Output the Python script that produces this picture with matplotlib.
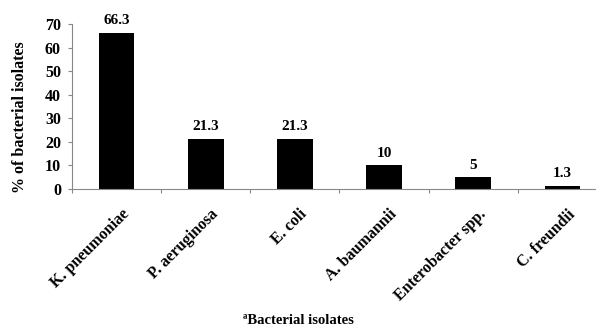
import matplotlib
matplotlib.use("Agg")
import matplotlib.pyplot as plt
import numpy as np

categories = ["K. pneumoniae", "P. aeruginosa", "E. coli", "A. baumannii", "Enterobacter spp.", "C. freundii"]
values = [66.3, 21.3, 21.3, 10, 5, 1.3]
labels = ["66.3", "21.3", "21.3", "10", "5", "1.3"]
yticks = [0, 10, 20, 30, 40, 50, 60, 70]

plt.rcParams['font.family'] = ['Liberation Serif', 'DejaVu Serif']
plt.rcParams['font.weight'] = 'bold'

fig = plt.figure(figsize=(5.96, 3.29), dpi=100)
ax = fig.add_axes([72/596, 1 - 188.7/329, 535/596, (188.7 - 24)/329])

x = np.arange(len(categories))
ax.bar(x, values, width=0.4, color='black')
for xi, v, lab in zip(x, values, labels):
    ax.text(xi, v + 2.3, lab, ha='center', va='bottom', fontsize=11, fontweight='bold')

ax.set_xlim(-0.5, len(categories) - 0.5)
ax.set_ylim(0, 70)
ax.set_yticks(yticks)
ax.set_yticklabels([str(t) for t in yticks], fontsize=11.5, fontweight='bold')
ax.set_xticks(np.arange(len(categories) + 1) - 0.5)
ax.set_xticklabels([])
ax.tick_params(axis='x', direction='out', length=3, color='#888888')
ax.tick_params(axis='y', direction='out', length=3, color='#888888', pad=5)
for i, c in enumerate(categories):
    ax.text(i + 0.05, -7.5, c, rotation=45, ha='right', va='top', rotation_mode='anchor',
            fontsize=11.5, fontweight='bold')

for s in ['top', 'right']:
    ax.spines[s].set_visible(False)
for s in ['left', 'bottom']:
    ax.spines[s].set_color('#888888')
    ax.spines[s].set_linewidth(0.8)

ax.set_ylabel("% of bacterial isolates", fontsize=11.5, fontweight='bold')
ax.yaxis.set_label_coords(-0.082, 0.435)
fig.text(0.5, 1 - 321/329, "ªBacterial isolates", ha='center', va='center', fontsize=10.5, fontweight='bold')

fig.savefig("out.png", dpi=100)
